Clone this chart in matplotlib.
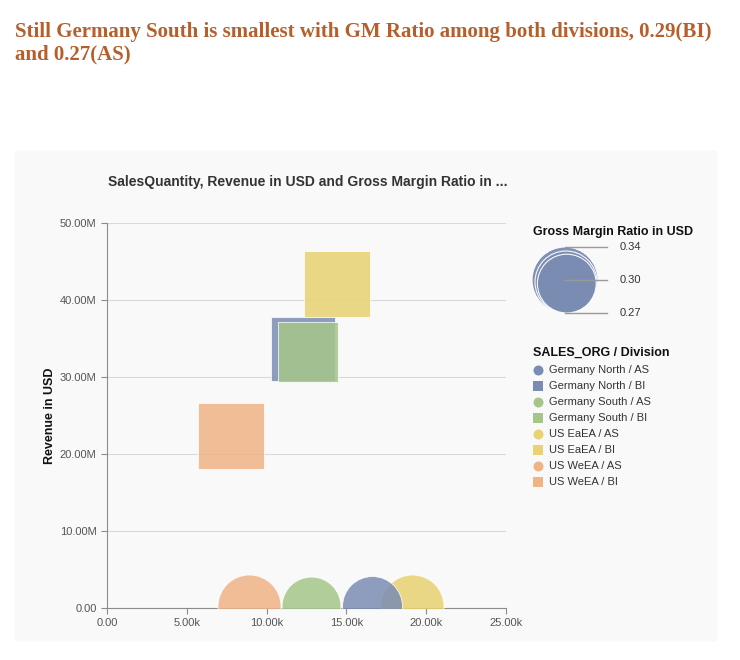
import numpy as np
import matplotlib
matplotlib.use('Agg')
from matplotlib import pyplot as plt
from matplotlib.patches import Rectangle, Circle
from matplotlib.ticker import FuncFormatter

plt.rcParams['font.family'] = ['Liberation Sans', 'DejaVu Sans']

# data
orgs = ['Germany North', 'Germany South', 'US EaEA', 'US WeEA']
colors = ['#7b8cb3', '#a5c688', '#e8d272', '#f0b386']

as_qty = [16600, 12800, 19100, 8900]
as_rev = [0.2e6, 0.2e6, 0.3e6, 0.2e6]
as_gm = [0.28, 0.27, 0.31, 0.31]

bi_qty = [12300, 12600, 14400, 7800]
bi_rev = [33.7e6, 33.2e6, 42.1e6, 22.3e6]
bi_gm = [0.31, 0.29, 0.33, 0.34]

size_ticks = [0.34, 0.30, 0.27]
title = 'Still Germany South is smallest with GM Ratio among both divisions, 0.29(BI)\nand 0.27(AS)'
chart_title = 'SalesQuantity, Revenue in USD and Gross Margin Ratio in ...'

W, H = 740, 660
MAX_D = 66  # px diameter of the largest bubble


def diam(v):
    return MAX_D * np.sqrt(v / max(size_ticks))


def msize(v):
    # scatter size in pt^2 from px diameter
    return (diam(np.asarray(v)) * 0.72) ** 2


fig = plt.figure(figsize=(W / 100, H / 100), dpi=100)

# overlay in pixel coords for panel, titles and legend
ov = fig.add_axes([0, 0, 1, 1], zorder=0)
ov.set_xlim(0, W)
ov.set_ylim(H, 0)
ov.axis('off')
ov.add_patch(Rectangle((15, 151), 701, 489, color='#f9f9f9', zorder=0))

ov.text(15, 59, title, fontsize=15, fontweight='bold', family='Liberation Serif',
        color='#b65f2c', va='baseline', linespacing=1.15)
ov.text(108, 186, chart_title, fontsize=10, fontweight='bold', color='#333333', va='baseline')

ax = fig.add_axes([107 / W, 1 - 608 / H, 399 / W, 385 / H], zorder=1)
ax.set_facecolor('none')

order = [2, 3, 0, 1]
for i in order:
    ax.scatter(as_qty[i], as_rev[i], s=msize(as_gm[i]), marker='o', color=colors[i],
               alpha=0.85, edgecolor='white', linewidth=0.6, zorder=3)
for i in order:
    ax.scatter(bi_qty[i], bi_rev[i], s=msize(bi_gm[i]), marker='s', color=colors[i],
               alpha=0.85, edgecolor='#ffffff', linewidth=0.6, zorder=3)

ax.set_xlim(0, 25000)
ax.set_ylim(0, 50e6)
ax.set_xticks(np.arange(0, 25001, 5000))
ax.set_yticks(np.arange(0, 50e6 + 1, 10e6))
ax.xaxis.set_major_formatter(FuncFormatter(lambda v, p: '0.00' if v == 0 else '%.2fk' % (v / 1000)))
ax.yaxis.set_major_formatter(FuncFormatter(lambda v, p: '0.00' if v == 0 else '%.2fM' % (v / 1e6)))
ax.grid(axis='y', color='#d9d9d9', linewidth=0.8, zorder=0)
ax.set_axisbelow(True)
for s in ['top', 'right']:
    ax.spines[s].set_visible(False)
for s in ['left', 'bottom']:
    ax.spines[s].set_color('#8c8c8c')
    ax.spines[s].set_linewidth(0.8)
ax.tick_params(colors='#8c8c8c', labelcolor='#555555', labelsize=8, length=4, width=0.8)
ax.set_ylabel('Revenue in USD', fontsize=9, fontweight='bold', color='#111111', labelpad=3)

# size legend
ov.text(533, 235, 'Gross Margin Ratio in USD', fontsize=9, fontweight='bold', color='#111111',
        va='baseline')
bottom = 313
cx = 565
for k, v in enumerate(size_ticks):
    d = diam(v)
    ov.add_patch(Circle((cx + (MAX_D - d) / 4, bottom - d / 2), d / 2, facecolor=colors[0],
                        edgecolor='white', linewidth=0.8, alpha=0.95, zorder=2 + k))
for v, yy in zip(size_ticks, [247, 280, 313]):
    ov.plot([cx, 607], [yy, yy], color='#9a9a9a', linewidth=1, zorder=6)
    ov.text(620, yy, '%.2f' % v, fontsize=8, color='#333333', va='center')

# color/shape legend
ov.text(533, 356, 'SALES_ORG / Division', fontsize=9, fontweight='bold', color='#111111',
        va='baseline')
y0 = 370
for i, org in enumerate(orgs):
    for j, (div, mk) in enumerate([('AS', 'o'), ('BI', 's')]):
        yy = y0 + (2 * i + j) * 16
        ov.scatter(538, yy, s=(10 * 0.72) ** 2 if mk == 'o' else (9.5 * 0.72) ** 2,
                   marker=mk, color=colors[i], zorder=3, linewidths=0)
        ov.text(549, yy, '%s / %s' % (org, div), fontsize=8, color='#333333', va='center')

fig.savefig('out.png', dpi=100)
